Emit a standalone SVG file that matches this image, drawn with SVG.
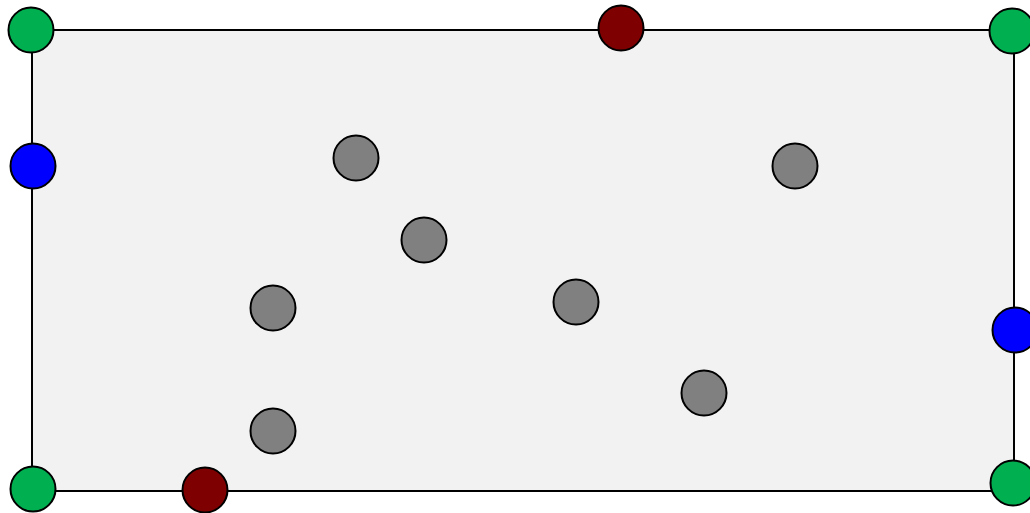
<svg xmlns="http://www.w3.org/2000/svg" width="1030" height="513" viewBox="0 0 1030 513">
<style>
.n{stroke:#000;stroke-width:2}
.g{fill:#00b050}
.r{fill:#7f0000}
.b{fill:#0000ff}
.k{fill:#808080}
</style>
<rect width="1030" height="513" fill="#fff"/>
<g id="area"><rect x="32" y="30" width="982" height="461" fill="#f2f2f2" stroke="#000" stroke-width="2"/></g>
<g id="connectors"></g>
<g id="n1"><circle class="n g" cx="31" cy="30" r="22.5"/></g>
<g id="n2"><circle class="n g" cx="1012" cy="31" r="22.5"/></g>
<g id="n3"><circle class="n g" cx="33" cy="489" r="22.5"/></g>
<g id="n4"><circle class="n g" cx="1013" cy="483" r="22.5"/></g>
<g id="n5"><circle class="n r" cx="621" cy="28" r="22.5"/></g>
<g id="n6"><circle class="n r" cx="205" cy="490" r="22.5"/></g>
<g id="n7"><circle class="n b" cx="33" cy="166" r="22.5"/></g>
<g id="n8"><circle class="n b" cx="1015" cy="330" r="22.5"/></g>
<g id="n9"><circle class="n k" cx="356" cy="158" r="22.5"/></g>
<g id="n10"><circle class="n k" cx="795" cy="166" r="22.5"/></g>
<g id="n11"><circle class="n k" cx="424" cy="240" r="22.5"/></g>
<g id="n12"><circle class="n k" cx="273" cy="308" r="22.5"/></g>
<g id="n13"><circle class="n k" cx="576" cy="302" r="22.5"/></g>
<g id="n14"><circle class="n k" cx="704" cy="393" r="22.5"/></g>
<g id="n15"><circle class="n k" cx="273" cy="431" r="22.5"/></g>
</svg>
